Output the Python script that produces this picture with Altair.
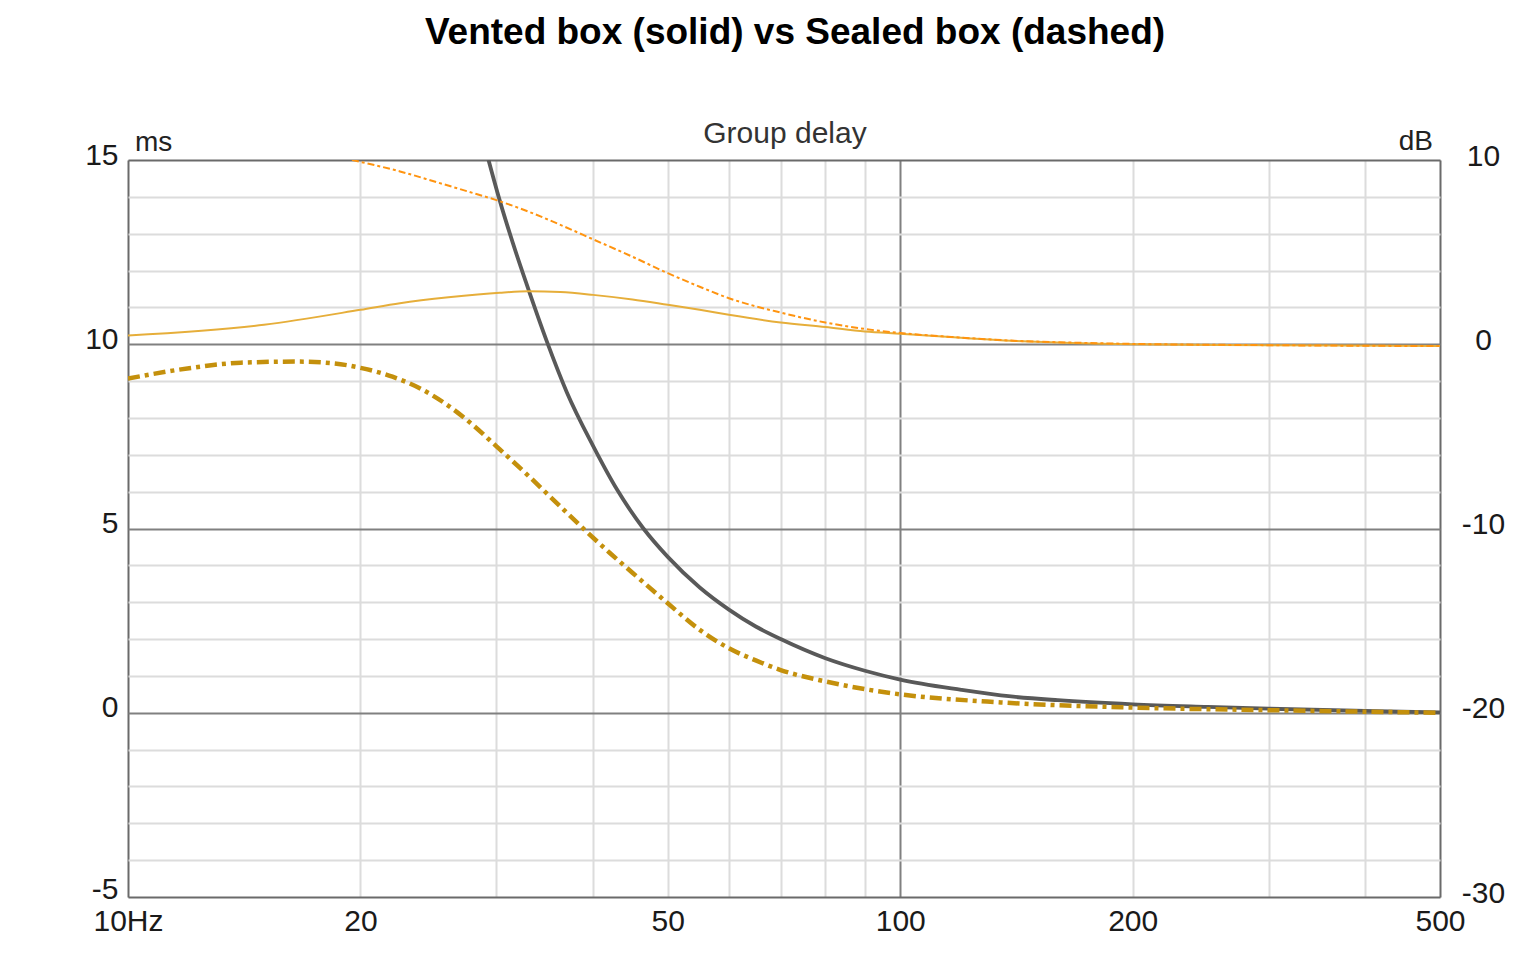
import altair as alt
import pandas as pd

# ---- data ----
# Vented box group delay (ms, left axis) - solid dark grey
vgd_freq = [29.3, 30.2, 31.5, 32.8, 34.9, 37.0, 40.0, 43.0, 46.5, 50.0, 55.0, 60.0, 65.0, 70.0,
            80.0, 90.0, 100.0, 120.0, 135.0, 160.0, 200.0, 250.0, 300.0, 400.0, 500.0]
vgd_ms = [15.0, 14.0, 12.75, 11.65, 10.05, 8.7, 7.25, 6.05, 5.0, 4.23, 3.4, 2.8, 2.34, 2.0,
          1.48, 1.14, 0.9, 0.62, 0.47, 0.34, 0.23, 0.16, 0.11, 0.05, 0.01]

# Sealed box group delay (ms, left axis) - thick dash-dot gold
sgd_freq = [10.0, 12.0, 14.0, 16.5, 18.3, 20.0, 22.0, 24.0, 26.0, 28.0, 30.0, 33.0, 36.0, 39.0,
            42.0, 45.0, 50.0, 55.0, 60.0, 65.0, 70.0, 80.0, 90.0, 100.0, 135.0, 200.0, 300.0, 500.0]
sgd_ms = [9.07, 9.35, 9.5, 9.53, 9.49, 9.36, 9.12, 8.78, 8.33, 7.8, 7.23, 6.43, 5.67, 4.97,
          4.35, 3.8, 2.97, 2.25, 1.75, 1.42, 1.16, 0.85, 0.64, 0.5, 0.28, 0.14, 0.07, 0.0]

# Vented box SPL (dB, right axis) - thin solid
vspl_freq = [10.0, 15.0, 20.0, 22.5, 26.0, 30.3, 33.0, 36.3, 40.0, 45.0, 50.0, 55.0, 60.0, 70.0,
             80.0, 90.0, 100.0, 139.0, 200.0, 300.0, 500.0]
vspl_db = [0.48, 1.06, 1.87, 2.23, 2.55, 2.8, 2.87, 2.83, 2.68, 2.43, 2.14, 1.87, 1.6, 1.18,
           0.93, 0.69, 0.57, 0.19, 0.0, -0.05, -0.1]

# Sealed box SPL (dB, right axis) - thin dash-dot orange
sspl_freq = [19.5, 22.5, 25.0, 27.5, 30.0, 33.0, 36.3, 40.0, 45.0, 50.0, 55.0, 60.0, 70.0, 80.0,
             90.0, 100.0, 120.0, 139.0, 170.0, 200.0, 300.0, 500.0]
sspl_db = [10.0, 9.38, 8.82, 8.3, 7.82, 7.2, 6.48, 5.7, 4.75, 3.86, 3.12, 2.5, 1.72, 1.18,
           0.83, 0.61, 0.36, 0.2, 0.08, 0.02, -0.05, -0.1]

x_grid_values = [10, 20, 30, 40, 50, 60, 70, 80, 90, 100, 200, 300, 400, 500]
x_label_values = [10, 20, 50, 100, 200, 500]
ms_grid_values = list(range(-5, 16))
db_label_values = [-30, -20, -10, 0, 10]

FONT = "Liberation Sans"
LABEL_SIZE = 30
LABEL_COLOR = "#1a1a1a"

x_enc = alt.X(
    "f:Q",
    scale=alt.Scale(type="log", domain=[10, 500], nice=False),
    axis=alt.Axis(
        values=x_grid_values,
        labelExpr="datum.value == 10 ? '10Hz' : (indexof(" + str(x_label_values) + ", datum.value) >= 0 ? '' + datum.value : '')",
        grid=True,
        gridColor={"condition": [
            {"test": "datum.value == 100", "value": "#808080"},
            {"test": "datum.value == 10 || datum.value == 500", "value": "#6a6a6a"}],
            "value": "#dcdcdc"},
        gridWidth=2,
        domain=False, ticks=False,
        labelFlush=False, labelOverlap=False,
        labelPadding=9, labelFont=FONT, labelFontSize=LABEL_SIZE, labelColor=LABEL_COLOR,
        title=None,
    ),
)

y_ms = alt.Y(
    "v:Q",
    scale=alt.Scale(domain=[-5, 15], nice=False, zero=False),
    axis=alt.Axis(
        orient="left",
        values=ms_grid_values,
        labelExpr="datum.value % 5 == 0 ? '' + datum.value : ''",
        grid=True,
        gridColor={"condition": [
            {"test": "datum.value == -5 || datum.value == 15", "value": "#6a6a6a"},
            {"test": "datum.value % 5 == 0", "value": "#808080"}],
            "value": "#dcdcdc"},
        gridWidth=2,
        domain=False, ticks=False,
        labelPadding=10,
        labelOffset={"condition": {"test": "datum.value == -5", "value": -8}, "value": -5},
        labelOverlap=False,
        labelFont=FONT, labelFontSize=LABEL_SIZE, labelColor=LABEL_COLOR,
        title=None,
    ),
)

y_db = alt.Y(
    "v:Q",
    scale=alt.Scale(domain=[-30, 10], nice=False, zero=False),
    axis=alt.Axis(
        orient="right",
        values=db_label_values,
        labelExpr="'' + datum.value",
        grid=False, domain=False, ticks=False,
        labelAlign="center", labelPadding=43, labelOffset=-4, labelOverlap=False,
        labelFont=FONT, labelFontSize=LABEL_SIZE, labelColor=LABEL_COLOR,
        title=None,
    ),
)

df_vgd = pd.DataFrame({"f": vgd_freq, "v": vgd_ms})
df_sgd = pd.DataFrame({"f": sgd_freq, "v": sgd_ms})
df_vspl = pd.DataFrame({"f": vspl_freq, "v": vspl_db})
df_sspl = pd.DataFrame({"f": sspl_freq, "v": sspl_db})

vgd = alt.Chart(df_vgd).mark_line(
    clip=True, color="#595959", strokeWidth=3.8, interpolate="monotone"
).encode(x=x_enc, y=y_ms)

sgd = alt.Chart(df_sgd).mark_line(
    clip=True, color="#c4900c", strokeWidth=4.5, interpolate="monotone",
    strokeDash=[12, 5, 4, 5]
).encode(x=x_enc, y=y_ms)

vspl = alt.Chart(df_vspl).mark_line(
    clip=True, color="#e6ae3a", strokeWidth=2, interpolate="monotone"
).encode(x=x_enc, y=y_db)

sspl = alt.Chart(df_sspl).mark_line(
    clip=True, color="#ff9410", strokeWidth=2, interpolate="monotone",
    strokeDash=[7, 3, 3, 3]
).encode(x=x_enc, y=y_db)

txt_ms = alt.Chart(pd.DataFrame({"t": ["ms"]})).mark_text(
    align="left", baseline="middle", font=FONT, fontSize=28, color="#222222"
).encode(x=alt.value(7), y=alt.value(-17), text="t:N")

txt_db = alt.Chart(pd.DataFrame({"t": ["dB"]})).mark_text(
    align="right", baseline="middle", font=FONT, fontSize=28, color="#222222"
).encode(x=alt.value(1305), y=alt.value(-18), text="t:N")

txt_gd = alt.Chart(pd.DataFrame({"t": ["Group delay"]})).mark_text(
    align="center", baseline="middle", font=FONT, fontSize=30, color="#333333"
).encode(x=alt.value(657), y=alt.value(-26), text="t:N")

left = alt.layer(vgd, sgd, txt_ms, txt_db, txt_gd)
right = alt.layer(vspl, sspl)

chart = alt.layer(left, right).resolve_scale(y="independent").properties(
    width=1312,
    height=737,
    autosize=alt.AutoSizeParams(type="none"),
    padding={"left": 120, "top": 152, "right": 85, "bottom": 50},
    title=alt.TitleParams(
        text="Vented box (solid) vs Sealed box (dashed)",
        font=FONT, fontSize=37, fontWeight="bold", color="#000000",
        anchor="middle", frame="group", offset=67, dx=11,
    ),
).configure_view(stroke="#6a6a6a", strokeWidth=2.5).configure(background="white")

chart.save("out.html", embed_options={"renderer": "svg", "actions": False})
